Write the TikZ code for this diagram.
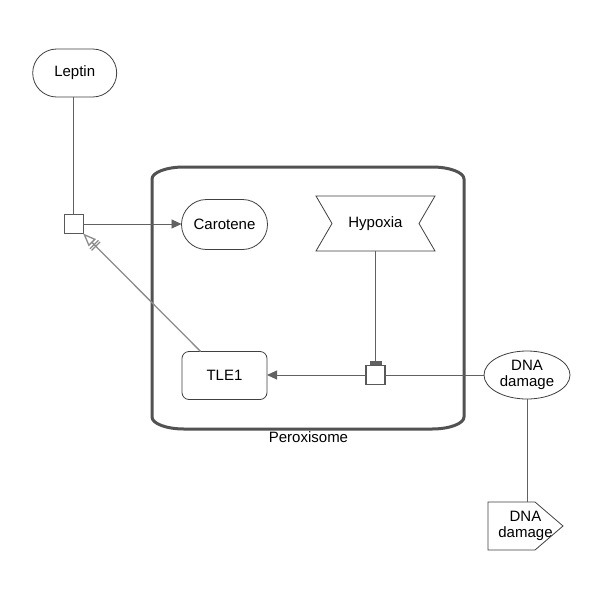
\documentclass[tikz,border=0pt]{standalone}
\usepackage{fontspec}
\setmainfont{Liberation Sans}
\usetikzlibrary{arrows.meta,shapes.geometric}
\begin{document}
\begin{tikzpicture}[x=1pt,y=-1pt,
  font=\fontsize{15}{16.5}\selectfont,
  ent/.style={draw=black!75, line width=0.8pt, inner sep=0pt, outer sep=0pt, align=center},
  pill/.style={ent, rectangle, rounded corners=24pt, minimum width=84pt, minimum height=48pt},
  macro/.style={ent, rectangle, rounded corners=7pt, minimum width=85pt, minimum height=48pt},
  blob/.style={ent, ellipse, minimum width=86pt, minimum height=48pt},
  bare/.style={inner sep=0pt, outer sep=0pt, align=center},
  proc/.style={draw=black!65, line width=1.1pt, rectangle, minimum size=19pt, inner sep=0pt, outer sep=0pt},
  link/.style={draw=black!62, line width=0.9pt},
  produce/.style={link, -{Triangle[length=10pt,width=9pt]}},
  inhibit/.style={link, -{Rectangle[length=3.5pt,width=12pt]}, shorten >=0.8pt},
  needed/.style={draw=black!45, line width=1.3pt,
    -{Bar[width=12pt,sep=1pt]Bar[width=12pt,sep=2pt]Triangle[open,length=13pt,width=10pt]}},
  comp/.style={draw=black!68, line width=3pt},
]
\fill[white] (0,0) rectangle (600,600);
\useasboundingbox (0,0) rectangle (600,600);

% compartment outline with flattened corners
\draw[comp] (184,167) -- (432,167)
  .. controls (449.6,167) and (464,172.4) .. (464,179)
  -- (464,417)
  .. controls (464,423.6) and (449.6,429) .. (432,429)
  -- (184,429)
  .. controls (166.4,429) and (152,423.6) .. (152,417)
  -- (152,179)
  .. controls (152,172.4) and (166.4,167) .. (184,167) -- cycle;
\node (cl) at (308.5,437.5) {Peroxisome};

% entities
\node[pill] (lep) at (74.7,73) {Leptin};
\node[proc] (p1) at (73.7,224) {};
\node[pill, minimum width=86pt, minimum height=50pt, rounded corners=25pt] (car) at (224.5,224.5) {Carotene};
\node[bare, minimum width=119pt, minimum height=55pt] (hyp) at (375.5,223.5) {Hypoxia};
\draw[ent] (hyp.north west) -- (hyp.north east) -- ([xshift=-16pt]hyp.east)
  -- (hyp.south east) -- (hyp.south west) -- ([xshift=16pt]hyp.west) -- cycle;
\node[macro] (tle) at (224.5,375.5) {TLE1};
\node[proc] (p2) at (375.5,375) {};
\node[blob] (dna) at (527,375) {DNA\\damage};
\node[bare, minimum width=75pt, minimum height=48pt] (tag) at (525.5,526) {DNA\\damage};
\draw[ent] (tag.north west) -- ([xshift=-28pt]tag.north east) -- (tag.east)
  -- ([xshift=-28pt]tag.south east) -- (tag.south west) -- cycle;

% connectors
\draw[link] (p1.north |- lep.south) -- (p1.north);
\draw[produce] (p1.east) -- (p1.east -| car.west);
\draw[inhibit] (hyp.south) -- (p2.north);
\draw[link] (dna.west |- p2.east) -- (p2.east);
\draw[produce] (p2.west) -- (p2.west -| tle.east);
\draw[needed] (tle) -- (p1);
\draw[link] (dna.south) -- (dna.south |- tag.north);
\end{tikzpicture}
\end{document}
